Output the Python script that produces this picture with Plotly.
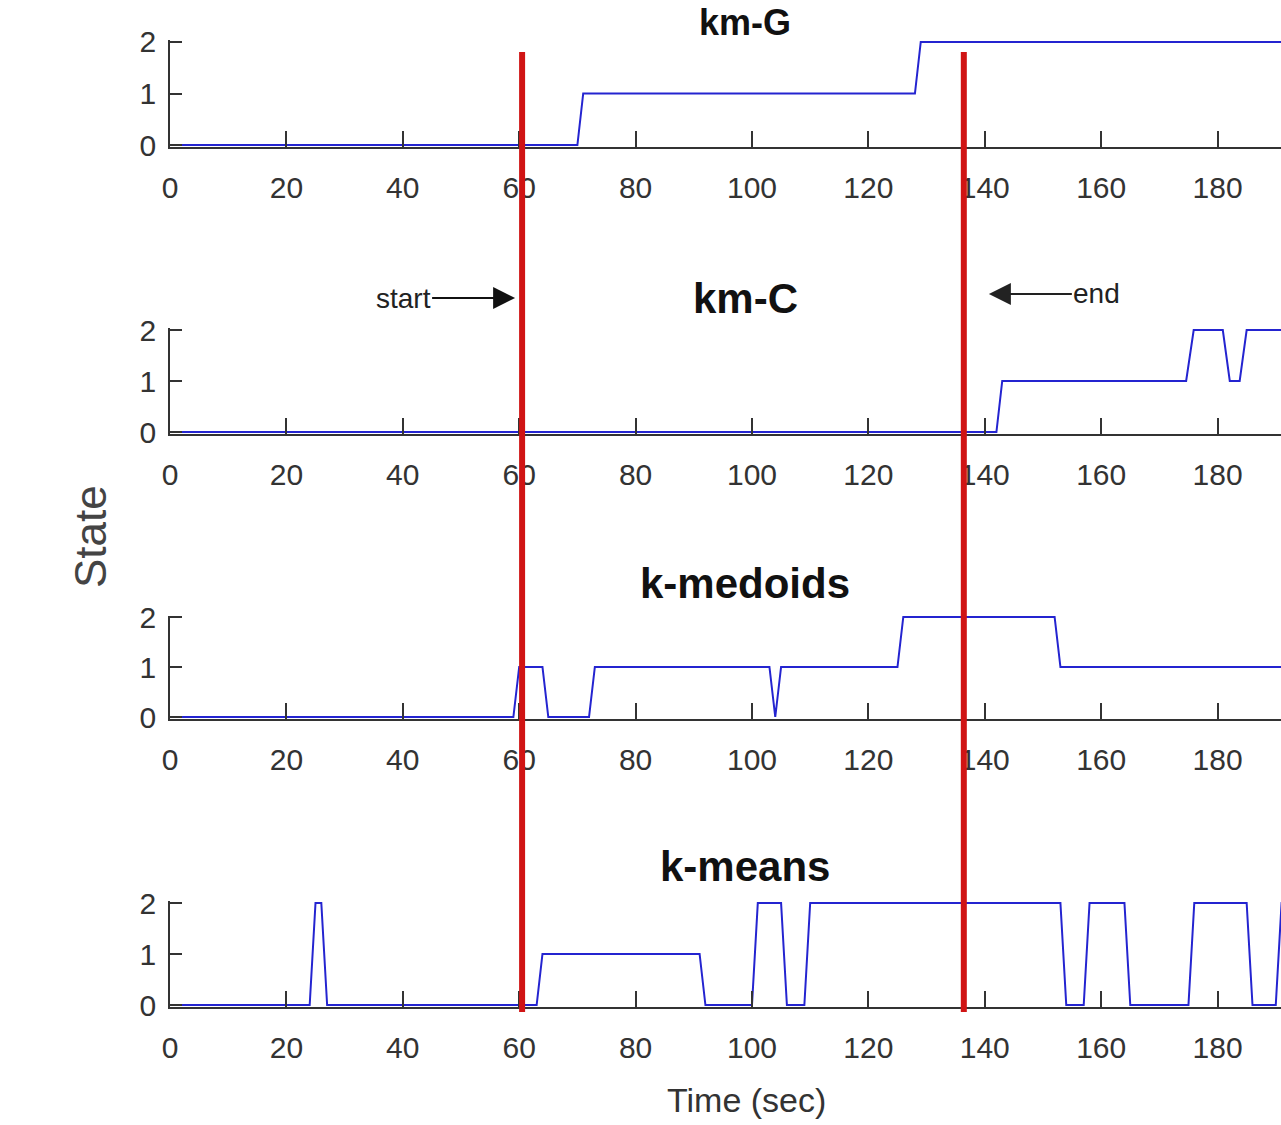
import plotly.graph_objects as go

# ---- data (time in sec, state) ----
kmG_t = [0, 70, 71, 128, 129, 200]
kmG_s = [0, 0, 1, 1, 2, 2]

kmC_t = [0, 142, 143, 174.6, 175.9, 180.9, 182.1, 183.8, 185, 200]
kmC_s = [0, 0, 1, 1, 2, 2, 1, 1, 2, 2]

kmed_t = [0, 59, 60, 64, 65, 72, 73, 103, 104, 105, 125, 126, 152, 153, 200]
kmed_s = [0, 0, 1, 1, 0, 0, 1, 1, 0, 1, 1, 2, 2, 1, 1]

kmeans_t = [0, 24, 25, 26, 27, 63, 64, 91, 92, 100, 101, 105, 106, 109, 110,
            153, 154, 157, 158, 164, 165, 175, 176, 185, 186, 190, 191, 200]
kmeans_s = [0, 0, 2, 2, 0, 0, 1, 1, 0, 0, 2, 2, 0, 0, 2,
            2, 0, 0, 2, 2, 0, 0, 2, 2, 0, 0, 2, 2]

titles = ["km-G", "km-C", "k-medoids", "k-means"]
series = [(kmG_t, kmG_s), (kmC_t, kmC_s), (kmed_t, kmed_s), (kmeans_t, kmeans_s)]
event_times = [60.5, 136.4]          # start / end markers
x_ticks = [0, 20, 40, 60, 80, 100, 120, 140, 160, 180]
y_ticks = [0, 1, 2]

W, H = 1281, 1125
FONT = "Liberation Sans, Arial, Helvetica, sans-serif"
BLUE = "#2424d0"
RED = "#d01414"
AX = "#333333"

# pixel positions of y=0 and y=2 for each panel
panel_px = [(145, 42), (432, 330), (717, 617), (1005, 903)]
title_px = [0, 298, 583, 866]

fig = go.Figure()
layout = dict(width=W, height=H, margin=dict(l=170, r=0, t=0, b=0, autoexpand=False),
              paper_bgcolor="white", plot_bgcolor="white", showlegend=False,
              annotations=[], shapes=[])

for i, ((t, s), (p0, p2)) in enumerate(zip(series, panel_px)):
    k = "" if i == 0 else str(i + 1)
    fig.add_trace(go.Scatter(x=t, y=s, mode="lines", xaxis="x" + k, yaxis="y" + k,
                             line=dict(color=BLUE, width=2)))
    ppu = (p0 - p2) / 2.0
    pad = 0.03
    bot = p0 + pad * ppu
    top = p2 - pad * ppu
    layout["xaxis" + k] = dict(
        domain=[0, 1], range=[0, 190.9], anchor="y" + k, automargin=False,
        tickvals=x_ticks, ticks="inside", ticklen=16, tickwidth=1.5, tickcolor=AX,
        showline=True, linecolor=AX, linewidth=1.5, showgrid=False, zeroline=False,
        tickfont=dict(family=FONT, size=30, color=AX), ticklabelstandoff=14,
    )
    layout["yaxis" + k] = dict(
        domain=[1 - bot / H, 1 - top / H], range=[-pad, 2 + pad], anchor="x" + k,
        automargin=False,
        tickvals=y_ticks, ticks="inside", ticklen=12, tickwidth=1.5, tickcolor=AX,
        showline=True, linecolor=AX, linewidth=1.5, showgrid=False, zeroline=False,
        tickfont=dict(family=FONT, size=30, color=AX), ticklabelstandoff=6,
    )
    layout["annotations"].append(dict(
        text="<b>" + titles[i] + "</b>", xref="paper", yref="paper",
        x=(745 - 170) / (W - 170), y=1 - title_px[i] / H, xanchor="center",
        yanchor=("top" if i == 0 else "middle"),
        showarrow=False, font=dict(family=FONT, size=(36 if i == 0 else 42), color="#111111")))

for et in event_times:
    layout["shapes"].append(dict(type="line", xref="x", yref="paper",
                                 x0=et, x1=et, y0=1 - 52 / H, y1=1 - 1012 / H,
                                 line=dict(color=RED, width=6)))

# start / end arrows
layout["annotations"].append(dict(
    text="start", xref="x", yref="paper", x=event_times[0] - 1.2, y=1 - 298 / H,
    ax=-112, ay=0, axref="pixel", ayref="pixel", showarrow=True,
    arrowhead=2, arrowsize=2.2, arrowwidth=2, arrowcolor="#111111",
    font=dict(family=FONT, size=28, color="#222222")))
layout["annotations"].append(dict(
    text="end", xref="x", yref="paper", x=event_times[1] + 4.3, y=1 - 294 / H,
    ax=108, ay=0, axref="pixel", ayref="pixel", showarrow=True,
    arrowhead=2, arrowsize=2.2, arrowwidth=2, arrowcolor="#222222",
    font=dict(family=FONT, size=28, color="#222222")))

layout["annotations"].append(dict(
    text="State", xref="paper", yref="paper", x=-80 / (W - 170), y=1 - 537 / H,
    xanchor="center", yanchor="middle", textangle=-90, showarrow=False,
    font=dict(family=FONT, size=44, color="#444444")))
layout["annotations"].append(dict(
    text="Time (sec)", xref="paper", yref="paper", x=(746 - 170) / (W - 170), y=1 - 1100 / H,
    xanchor="center", yanchor="middle", showarrow=False,
    font=dict(family=FONT, size=34, color="#333333")))

fig.update_layout(**layout)
fig.write_html("out.html")
